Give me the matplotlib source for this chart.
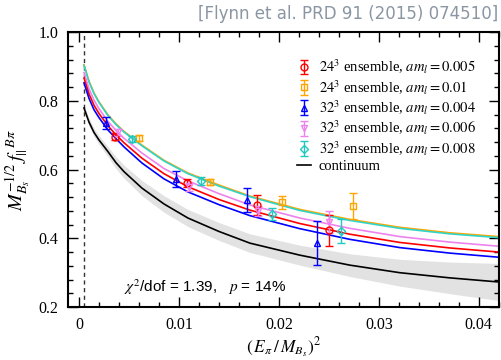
import matplotlib
matplotlib.use("Agg")
import matplotlib.pyplot as plt
from matplotlib.ticker import MultipleLocator

# curve grid (E_pi/M_Bs)^2 and fit curves
xc = [0.0005, 0.0010, 0.0015, 0.0020, 0.0029, 0.0037, 0.0045, 0.0063, 0.0085,
      0.0109, 0.0140, 0.0171, 0.0221, 0.0271, 0.0321, 0.0371, 0.0420]
c_orange = [0.905, 0.857, 0.823, 0.797, 0.759, 0.733, 0.711, 0.671, 0.627,
            0.590, 0.555, 0.523, 0.484, 0.455, 0.432, 0.416, 0.405]
c_cyan = [0.903, 0.855, 0.821, 0.795, 0.757, 0.731, 0.709, 0.669, 0.625,
          0.588, 0.552, 0.521, 0.481, 0.452, 0.429, 0.413, 0.402]
c_pink = [0.882, 0.835, 0.802, 0.777, 0.740, 0.714, 0.691, 0.648, 0.603,
          0.567, 0.530, 0.497, 0.459, 0.429, 0.405, 0.389, 0.377]
c_red = [0.866, 0.820, 0.787, 0.763, 0.727, 0.701, 0.678, 0.633, 0.588,
         0.550, 0.513, 0.482, 0.443, 0.412, 0.388, 0.372, 0.360]
c_blue = [0.852, 0.807, 0.774, 0.751, 0.715, 0.690, 0.666, 0.619, 0.573,
          0.535, 0.498, 0.466, 0.428, 0.397, 0.373, 0.357, 0.345]
c_black = [0.779, 0.738, 0.708, 0.686, 0.652, 0.620, 0.594, 0.546, 0.500,
           0.459, 0.420, 0.386, 0.351, 0.322, 0.300, 0.285, 0.273]
c_black_err = [0.010, 0.011, 0.012, 0.013, 0.015, 0.017, 0.019, 0.022, 0.024,
               0.025, 0.026, 0.027, 0.029, 0.033, 0.039, 0.046, 0.054]

# lattice data points: x, y, error
red_x = [0.0036, 0.0108, 0.0178, 0.0250]
red_y = [0.695, 0.561, 0.497, 0.424]
red_e = [0.010, 0.012, 0.029, 0.045]

orange_x = [0.0060, 0.0131, 0.0203, 0.0274]
orange_y = [0.691, 0.564, 0.505, 0.494]
orange_e = [0.009, 0.009, 0.019, 0.038]

blue_x = [0.0027, 0.0097, 0.0168, 0.0238]
blue_y = [0.735, 0.572, 0.511, 0.386]
blue_e = [0.018, 0.024, 0.035, 0.065]

pink_x = [0.0039, 0.0110, 0.0179, 0.0250]
pink_y = [0.709, 0.549, 0.479, 0.447]
pink_e = [0.010, 0.012, 0.015, 0.032]

cyan_x = [0.0053, 0.0122, 0.0193, 0.0262]
cyan_y = [0.689, 0.567, 0.470, 0.421]
cyan_e = [0.010, 0.012, 0.017, 0.035]

x_phys = 0.0005

plt.rcParams['font.family'] = ['Liberation Serif', 'DejaVu Serif']
plt.rcParams['mathtext.fontset'] = 'stix'

fig = plt.figure(figsize=(5.02, 3.6), dpi=100)
ax = fig.add_axes([0.1355, 0.147, 0.858, 0.764])

lo = [b - e for b, e in zip(c_black, c_black_err)]
hi = [b + e for b, e in zip(c_black, c_black_err)]
ax.fill_between(xc, lo, hi, color='#e2e2e2', lw=0, zorder=1)

ax.plot(xc, c_orange, color='orange', lw=1.2, zorder=2)
ax.plot(xc, c_cyan, color='#30d5c8', lw=1.2, zorder=2)
ax.plot(xc, c_pink, color='violet', lw=1.2, zorder=2)
ax.plot(xc, c_red, color='red', lw=1.2, zorder=2)
ax.plot(xc, c_blue, color='blue', lw=1.2, zorder=2)
line_cont, = ax.plot(xc, c_black, color='black', lw=1.2, zorder=2,
                     label='continuum')

ax.axvline(x_phys, color='#333333', ls=(0, (3, 2.5)), lw=1.0, zorder=1)

kw = dict(ls='none', mfc='none', mew=1.0, capsize=3, elinewidth=1.0, zorder=3)
h1 = ax.errorbar(red_x, red_y, yerr=red_e, marker='o', ms=5, color='red',
                 label=r'$24^3$ ensemble, $am_l = 0.005$', **kw)
h2 = ax.errorbar(orange_x, orange_y, yerr=orange_e, marker='s', ms=5, color='orange',
                 label=r'$24^3$ ensemble, $am_l = 0.01$', **kw)
h3 = ax.errorbar(blue_x, blue_y, yerr=blue_e, marker='^', ms=5, color='blue',
                 label=r'$32^3$ ensemble, $am_l = 0.004$', **kw)
h4 = ax.errorbar(pink_x, pink_y, yerr=pink_e, marker='v', ms=5, color='violet',
                 label=r'$32^3$ ensemble, $am_l = 0.006$', **kw)
h5 = ax.errorbar(cyan_x, cyan_y, yerr=cyan_e, marker='D', ms=4.5, color='#20c8c0',
                 label=r'$32^3$ ensemble, $am_l = 0.008$', **kw)

ax.legend(handles=[h1, h2, h3, h4, h5, line_cont], loc='upper right',
          bbox_to_anchor=(0.97, 0.945), frameon=False,
          fontsize=10.5, handlelength=1.0, handletextpad=0.5, labelspacing=0.12,
          borderpad=0.2)

ax.set_xlim(-0.0011, 0.042)
ax.set_ylim(0.2, 1.0)
ax.xaxis.set_minor_locator(MultipleLocator(0.002))
ax.yaxis.set_minor_locator(MultipleLocator(0.04))
ax.set_xticks([0, 0.01, 0.02, 0.03, 0.04])
ax.set_xticklabels(['0', '0.01', '0.02', '0.03', '0.04'])
ax.set_yticks([0.2, 0.4, 0.6, 0.8, 1.0])
ax.set_yticklabels(['0.2', '0.4', '0.6', '0.8', '1.0'])
ax.tick_params(which='both', direction='in', top=True, right=True, labelsize=11.5,
               width=1.0)
ax.tick_params(which='major', length=7, pad=7)
ax.tick_params(which='minor', length=3.5)
for s in ax.spines.values():
    s.set_linewidth(1.5)

ax.set_xlabel(r'$(\,E_{\pi}\,/\,M_{B_s})^2$', fontsize=12.5, labelpad=2)
ax.set_ylabel(r'$M_{B_s}^{-1/2}\,f_{||}^{\;\;B\pi}$', fontsize=14.5, labelpad=4)

ax.text(0.0045, 0.245, r'$\chi^2$/dof = 1.39,   $p$ = 14%', fontsize=11,
        family=['Liberation Sans', 'DejaVu Sans'])

fig.text(0.992, 0.985, '[Flynn et al. PRD 91 (2015) 074510]', ha='right', va='top',
         fontsize=12, color='#8a96a3', family=['DejaVu Sans'])

fig.savefig('out.png', dpi=100)
